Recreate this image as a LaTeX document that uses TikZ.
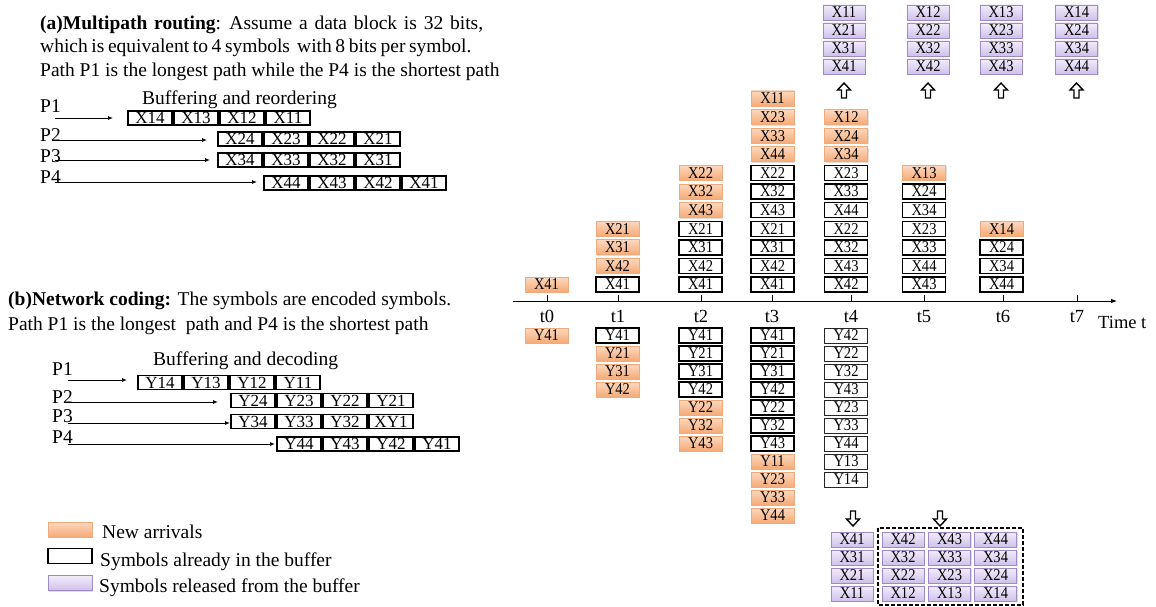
\documentclass[tikz,border=0pt]{standalone}
\usepackage{fontspec}
\setmainfont{Liberation Serif}
\newfontfamily\boxfont[FakeStretch=0.88]{Liberation Serif}
\usetikzlibrary{arrows.meta,shadows}
\definecolor{orTop}{RGB}{252,216,190}
\definecolor{orBot}{RGB}{245,170,118}
\definecolor{orLine}{RGB}{238,172,126}
\definecolor{puTop}{RGB}{242,237,251}
\definecolor{puBot}{RGB}{206,193,235}
\definecolor{puLine}{RGB}{158,138,196}
\tikzset{
  txt/.style={font=\fontsize{19.5}{22}\selectfont, inner sep=0pt, anchor=base west},
  tlab/.style={font=\fontsize{18.5}{20}\selectfont, inner sep=0pt, anchor=base},
  csym/.style={minimum width=43pt, minimum height=15pt, inner sep=0pt, font=\boxfont\fontsize{16.5}{16}\selectfont},
  symnew/.style={csym, draw=orLine, line width=0.8pt, top color=orTop, bottom color=orBot,
    drop shadow={opacity=0.25, shadow xshift=1pt, shadow yshift=-1pt}},
  symbuf/.style={csym, draw=black, line width=1.4pt, fill=white},
  symthin/.style={csym, draw=black!85, line width=0.9pt, fill=white},
  symrel/.style={csym, minimum width=42pt, draw=puLine, line width=0.8pt, top color=puTop, bottom color=puBot,
    drop shadow={opacity=0.25, shadow xshift=1pt, shadow yshift=-1pt}},
  lbox/.style={draw=black, line width=1.1pt, minimum width=44pt, minimum height=14pt, inner sep=0pt,
    font=\fontsize{17}{17}\selectfont},
  parr/.style={-{Latex[length=5pt,width=4pt]}, line width=0.9pt},
  axisarr/.style={-{Latex[length=6pt,width=4.5pt]}, line width=0.9pt},
  blk/.style={draw=black, line width=1.4pt, fill=white, line join=miter},
}
\newcommand\upblk[2]{\draw[blk] (#1,#2) -- ++(6.5,7) -- ++(-4,0) -- ++(0,8) -- ++(-5,0) -- ++(0,-8) -- ++(-4,0) -- cycle;}
\newcommand\downblk[2]{\draw[blk] (#1,#2) -- ++(6.5,-7) -- ++(-4,0) -- ++(0,-8) -- ++(-5,0) -- ++(0,8) -- ++(-4,0) -- cycle;}
\begin{document}
\begin{tikzpicture}[x=1pt,y=-1pt]
\useasboundingbox (0,0) rectangle (1156,607);

% ---------- (a) Multipath routing ----------
\node[txt] (a1) at (40,30) {\spaceskip=6.8pt\textbf{(a)Multipath routing}: Assume a data block is 32 bits,};
\node[txt] (a2) at (40,53) {\spaceskip=3.6pt which is equivalent to 4 symbols\ \ with 8 bits per symbol.};
\node[txt] (a3) at (40,77) {Path P1 is the longest path while the P4 is the shortest path};
\node[txt] (abuf) at (142,105) {Buffering and reordering};
\node[txt] (aP1) at (40,113) {P1};
\node[txt] (aP2) at (40,142) {P2};
\node[txt] (aP3) at (40,162) {P3};
\node[txt] (aP4) at (40,183) {P4};

\foreach \lab [count=\k from 0] in {X14,X13,X12,X11}
  \node[lbox] (ar1-\k) at ({150+46*\k},118) {\lab};
\foreach \lab [count=\k from 0] in {X24,X23,X22,X21}
  \node[lbox] (ar2-\k) at ({240+46*\k},139) {\lab};
\foreach \lab [count=\k from 0] in {X34,X33,X32,X31}
  \node[lbox] (ar3-\k) at ({240+46*\k},160) {\lab};
\foreach \lab [count=\k from 0] in {X44,X43,X42,X41}
  \node[lbox] (ar4-\k) at ({286+46*\k},183) {\lab};

\coordinate (as1) at (55,118); \coordinate (ae1) at (113,118);
\coordinate (as2) at (55,140); \coordinate (ae2) at (207,140);
\coordinate (as3) at (55,160); \coordinate (ae3) at (210,160);
\coordinate (as4) at (55,182); \coordinate (ae4) at (257,182);
\foreach \i in {1,2,3,4} \draw[parr] (as\i) -- (ae\i);

% ---------- (b) Network coding ----------
\node[txt] (b1) at (8,305) {\textbf{(b)Network coding:} The symbols are encoded symbols.};
\node[txt] (b2) at (8,330) {Path P1 is the longest\ \ path and P4 is the shortest path};
\node[txt] (bbuf) at (153,365) {Buffering and decoding};
\node[txt] (bP1) at (52,375) {P1};
\node[txt] (bP2) at (52,403) {P2};
\node[txt] (bP3) at (52,422) {P3};
\node[txt] (bP4) at (52,443) {P4};

\foreach \lab [count=\k from 0] in {Y14,Y13,Y12,Y11}
  \node[lbox] (br1-\k) at ({160+46*\k},382.5) {\lab};
\foreach \lab [count=\k from 0] in {Y24,Y23,Y22,Y21}
  \node[lbox] (br2-\k) at ({253+46*\k},400.5) {\lab};
\foreach \lab [count=\k from 0] in {Y34,Y33,Y32,XY1}
  \node[lbox] (br3-\k) at ({253+46*\k},421.5) {\lab};
\foreach \lab [count=\k from 0] in {Y44,Y43,Y42,Y41}
  \node[lbox] (br4-\k) at ({299+46*\k},444) {\lab};

\coordinate (bs1) at (68,380); \coordinate (be1) at (127,380);
\coordinate (bs2) at (68,402); \coordinate (be2) at (218,402);
\coordinate (bs3) at (68,423); \coordinate (be3) at (230,423);
\coordinate (bs4) at (68,444); \coordinate (be4) at (275,444);
\foreach \i in {1,2,3,4} \draw[parr] (bs\i) -- (be\i);

% ---------- legend ----------
\node[symnew, minimum width=44pt] (lg1) at (70,529.5) {};
\node[symbuf, minimum width=44pt] (lg2) at (70,556) {};
\node[symrel, minimum width=44pt] (lg3) at (70,583) {};
\node[txt] (lt1) at (102,538) {New arrivals};
\node[txt] (lt2) at (100,566) {Symbols already in the buffer};
\node[txt] (lt3) at (99,592) {Symbols released from the buffer};

% ---------- time axis ----------
\coordinate (ax0) at (513,301);
\coordinate (ax1) at (1117,301);
\draw[axisarr] (ax0) -- (ax1);
\foreach \tx [count=\k from 0] in {547,618,701,772,851,924,1003,1077}{
  \coordinate (tk\k) at (\tx,295);
  \draw[line width=0.9pt] (tk\k) -- (\tx,301);
  \node[tlab] (tl\k) at (\tx,322.5) {t\k};
}
\node[txt, font=\fontsize{18.5}{20}\selectfont] (timet) at (1098,328) {Time t};

% ---------- X columns (above axis) ----------
\foreach \lab/\ty [count=\k from 0] in {X41/new}
  \node[sym\ty] (x0-\k) at (546.5,{284.5-18.6*\k}) {\lab};
\foreach \lab/\ty [count=\k from 0] in {X41/buf,X42/new,X31/new,X21/new}
  \node[sym\ty] (x1-\k) at (617.5,{284.5-18.6*\k}) {\lab};
\foreach \lab/\ty [count=\k from 0] in {X41/buf,X42/buf,X31/buf,X21/buf,X43/new,X32/new,X22/new}
  \node[sym\ty] (x2-\k) at (700.5,{284.5-18.6*\k}) {\lab};
\foreach \lab/\ty [count=\k from 0] in {X41/buf,X42/buf,X31/buf,X21/buf,X43/buf,X32/buf,X22/buf,X44/new,X33/new,X23/new,X11/new}
  \node[sym\ty] (x3-\k) at (772.5,{284.5-18.6*\k}) {\lab};
\foreach \lab/\ty [count=\k from 0] in {X42/buf,X43/buf,X32/buf,X22/buf,X44/buf,X33/buf,X23/buf,X34/new,X24/new,X12/new}
  \node[sym\ty] (x4-\k) at (846,{284.5-18.6*\k}) {\lab};
\foreach \lab/\ty [count=\k from 0] in {X43/buf,X44/buf,X33/buf,X23/buf,X34/buf,X24/buf,X13/new}
  \node[sym\ty] (x5-\k) at (924,{284.5-18.6*\k}) {\lab};
\foreach \lab/\ty [count=\k from 0] in {X44/buf,X34/buf,X24/buf,X14/new}
  \node[sym\ty] (x6-\k) at (1001.5,{284.5-18.6*\k}) {\lab};

% ---------- Y columns (below axis) ----------
\foreach \lab/\ty [count=\k from 0] in {Y41/new}
  \node[sym\ty] (y0-\k) at (546.5,{335.5+18*\k}) {\lab};
\foreach \lab/\ty [count=\k from 0] in {Y41/buf,Y21/new,Y31/new,Y42/new}
  \node[sym\ty] (y1-\k) at (617.5,{335.5+18*\k}) {\lab};
\foreach \lab/\ty [count=\k from 0] in {Y41/buf,Y21/buf,Y31/buf,Y42/buf,Y22/new,Y32/new,Y43/new}
  \node[sym\ty] (y2-\k) at (700.5,{335.5+18*\k}) {\lab};
\foreach \lab/\ty [count=\k from 0] in {Y41/buf,Y21/buf,Y31/buf,Y42/buf,Y22/buf,Y32/buf,Y43/buf,Y11/new,Y23/new,Y33/new,Y44/new}
  \node[sym\ty] (y3-\k) at (772.5,{335.5+18*\k}) {\lab};
\foreach \lab/\ty [count=\k from 0] in {Y42/thin,Y22/thin,Y32/thin,Y43/thin,Y23/thin,Y33/thin,Y44/thin,Y13/thin,Y14/thin}
  \node[sym\ty] (y4-\k) at (846,{335.5+18*\k}) {\lab};

% ---------- released blocks (top) ----------
\foreach \cx/\d [count=\c from 1] in {844/1,928/2,1001/3,1076.5/4}{
  \foreach \r [count=\k from 0] in {1,2,3,4}
    \node[symrel] (rt\c-\k) at (\cx,{12.5+18*\k}) {X\r\d};
  \upblk{\cx}{83}
}

% ---------- released blocks (bottom) ----------
\downblk{853}{526}
\downblk{940}{526}
\foreach \r [count=\k from 0] in {4,3,2,1}
  \node[symrel] (rb0-\k) at (852,{539.5+18*\k}) {X\r1};
\foreach \cx/\d [count=\c from 1] in {903/2,949.5/3,995.5/4}
  \foreach \r [count=\k from 0] in {4,3,2,1}
    \node[symrel] (rb\c-\k) at (\cx,{539.5+18*\k}) {X\r\d};
\draw[dash pattern=on 4pt off 2pt, line width=1.1pt] (878,528) rectangle (1023,605);
\end{tikzpicture}
\end{document}
